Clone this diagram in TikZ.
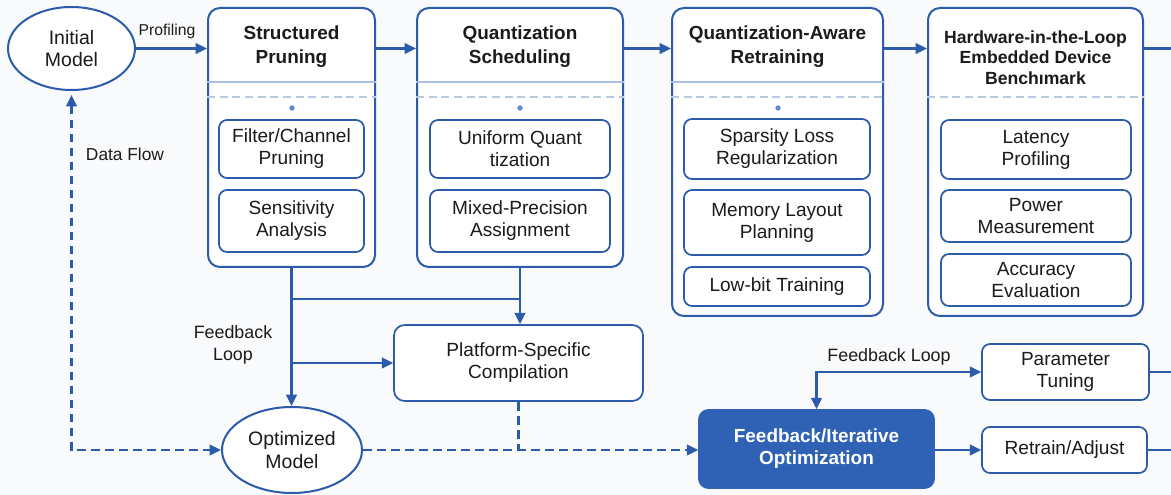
\documentclass[tikz,border=0pt]{standalone}
\usepackage{fontspec}
\setmainfont{Liberation Sans}
\usetikzlibrary{arrows.meta,shapes.geometric}
\definecolor{ink}{HTML}{1B1B1B}
\definecolor{lineblue}{HTML}{2B5BAA}
\definecolor{fillblue}{HTML}{2F62B5}
\definecolor{seplight}{HTML}{A9BFE3}
\definecolor{dashlight}{HTML}{B9C9E0}
\definecolor{dotblue}{HTML}{5C8BD6}
\definecolor{bgcol}{HTML}{F9FAFC}
\begin{document}
\begin{tikzpicture}[x=0.75pt,y=-0.75pt,
  stage/.style={draw=lineblue, line width=1.5pt, rounded corners=9pt, fill=white, inner sep=0pt},
  item/.style={draw=lineblue, line width=1.3pt, rounded corners=6pt, fill=white, align=center,
    text=ink, inner sep=0pt, font=\fontsize{14.3}{16.5}\selectfont},
  oval/.style={ellipse, draw=lineblue, line width=1.5pt, fill=white, align=center, text=ink,
    inner sep=0pt, font=\fontsize{14.6}{17}\selectfont},
  title/.style={align=center, text=ink, font=\bfseries\fontsize{14.2}{18}\selectfont},
  lbl/.style={text=ink, inner sep=1pt, font=\fontsize{13.4}{16.5}\selectfont},
  sepline/.style={draw=seplight, line width=0.9pt},
  sepdash/.style={draw=dashlight, line width=0.9pt, dash pattern=on 6pt off 3.5pt},
  wire/.style={draw=lineblue, line width=1.6pt},
  conn/.style={wire, -{Triangle[length=8.5pt,width=8pt]}},
  conntwo/.style={wire, {Triangle[length=8.5pt,width=8pt]}-{Triangle[length=8.5pt,width=8pt]}},
  dwire/.style={wire, dash pattern=on 6.5pt off 4pt},
  dconn/.style={dwire, -{Triangle[length=8.5pt,width=8pt]}},
  dconntwo/.style={dwire, {Triangle[length=8.5pt,width=8pt]}-{Triangle[length=8.5pt,width=8pt]}}
]
% canvas
\fill[bgcol] (0,0) rectangle (1171,495);
\useasboundingbox (0,0) rectangle (1171,495);

% source model
\node[oval, minimum width=95.25pt, minimum height=62.25pt] (init) at (71.5,48.5) {Initial\\Model};

% stage containers
\node[stage, minimum width=125.25pt, minimum height=194.25pt] (sp) at (291.5,137.5) {};
\node[stage, minimum width=154.5pt, minimum height=194.25pt] (qs) at (520,137.5) {};
\node[stage, minimum width=158.25pt, minimum height=231pt] (qar) at (777.5,162) {};
\node[stage, minimum width=161.25pt, minimum height=231pt] (hw) at (1035.5,162) {};

% stage headings
\node[title] (sptitle) at (291.5,47) {Structured\\Pruning};
\node[title] (qstitle) at (520,47) {Quantization\\Scheduling};
\node[title] (qartitle) at (777.5,47) {Quantization-Aware\\Retraining};
\node[title, font=\bfseries\fontsize{13.2}{15.4}\selectfont] (hwtitle) at (1035.5,57.5)
  {Hardware-in-the-Loop\\Embedded Device\\Benchımark};

% heading separators
\draw[sepline] (sp.west |- 0,82) -- (sp.east |- 0,82);
\draw[sepline] (qs.west |- 0,82) -- (qs.east |- 0,82);
\draw[sepline] (qar.west |- 0,82) -- (qar.east |- 0,82);
\draw[sepdash] (sp.west |- 0,97) -- (sp.east |- 0,97);
\draw[sepdash] (qs.west |- 0,97) -- (qs.east |- 0,97);
\draw[sepdash] (qar.west |- 0,97) -- (qar.east |- 0,97);
\draw[sepdash] (hw.west |- 0,97) -- (hw.east |- 0,97);
\fill[dotblue] (292,108) circle (2pt);
\fill[dotblue] (520,108) circle (2pt);
\fill[dotblue] (778,108) circle (2pt);

% stage contents
\node[item, minimum width=108.75pt, minimum height=43.5pt] (sp1) at (291.5,149) {Filter/Channel\\Pruning};
\node[item, minimum width=108.75pt, minimum height=46.5pt] (sp2) at (291.5,221) {Sensitivity\\Analysis};
\node[item, minimum width=135pt, minimum height=43.5pt] (qs1) at (520,149) {Uniform Quant\\tization};
\node[item, minimum width=135pt, minimum height=46.5pt] (qs2) at (520,221) {Mixed-Precision\\Assignment};
\node[item, minimum width=139.5pt, minimum height=45pt] (qar1) at (777,149) {Sparsity Loss\\Regularization};
\node[item, minimum width=139.5pt, minimum height=48.75pt] (qar2) at (777,222.5) {Memory Layout\\Planning};
\node[item, minimum width=139.5pt, minimum height=29.25pt] (qar3) at (777,286.5) {Low-bit Training};
\node[item, minimum width=142.5pt, minimum height=44.25pt] (hw1) at (1036,149.5) {Latency\\Profiling};
\node[item, minimum width=142.5pt, minimum height=39pt] (hw2) at (1036,216) {Power\\Measurement};
\node[item, minimum width=142.5pt, minimum height=39pt] (hw3) at (1036,280) {Accuracy\\Evaluation};

% lower row
\node[item, rounded corners=8pt, minimum width=186.75pt, minimum height=57pt] (plat) at (518.5,363) {Platform-Specific\\Compilation};
\node[oval, minimum width=105pt, minimum height=64.5pt] (opt) at (292,450) {Optimized\\Model};
\node[item, draw=fillblue, fill=fillblue, text=white, rounded corners=7pt,
  font=\bfseries\fontsize{14.2}{16.5}\selectfont,
  minimum width=176.25pt, minimum height=58.5pt] (fio) at (816.5,449) {Feedback/Iterative\\Optimization};
\node[item, minimum width=125.25pt, minimum height=42pt] (pt) at (1065.5,372) {Parameter\\Tuning};
\node[item, minimum width=123.75pt, minimum height=34.5pt] (ra) at (1064.5,450) {Retrain/Adjust};

% main pipeline
\draw[conn] (init.east) -- (init.east -| sp.west);
\draw[conn] (sp.east |- init.east) -- (qs.west |- init.east);
\draw[conn] (qs.east |- init.east) -- (qar.west |- init.east);
\draw[conn] (qar.east |- init.east) -- (hw.west |- init.east);
\coordinate (hwout) at (1171,48.5);
\draw[wire] (hw.east |- hwout) -- (hwout);

% branches below the first two stages
\coordinate (split) at (0,299);
\draw[conn] (sp.south) -- (sp.south |- opt.north);
\draw[wire] (sp.south |- split) -- (qs.south |- split);
\draw[conn] (qs.south) -- (qs.south |- plat.north);
\draw[conn] (sp.south |- plat.west) -- (plat.west);

% data flow (dashed)
\draw[dconntwo, shorten <=3pt] (init.south) |- (opt.west);
\draw[dwire] (plat.south) -- (plat.south |- opt.east);
\draw[dconn] (opt.east) -- (opt.east -| fio.west);

% iterative optimisation outputs
\draw[conntwo] (fio.north) |- (pt.west);
\draw[conn] (fio.east |- ra.west) -- (ra.west);
\coordinate (ptout) at (1171,372);
\coordinate (raout) at (1171,450);
\draw[wire] (pt.east) -- (ptout);
\draw[wire] (ra.east) -- (raout);

% labels
\node[lbl, font=\fontsize{11.8}{14}\selectfont] (lprof) at (167,31) {Profiling};
\node[lbl, font=\fontsize{13}{15}\selectfont] (ldata) at (125,154) {Data Flow};
\node[lbl, align=center] (lfbl) at (233,345) {Feedback\\Loop};
\node[lbl] (lfbr) at (889,357) {Feedback Loop};
\end{tikzpicture}
\end{document}
